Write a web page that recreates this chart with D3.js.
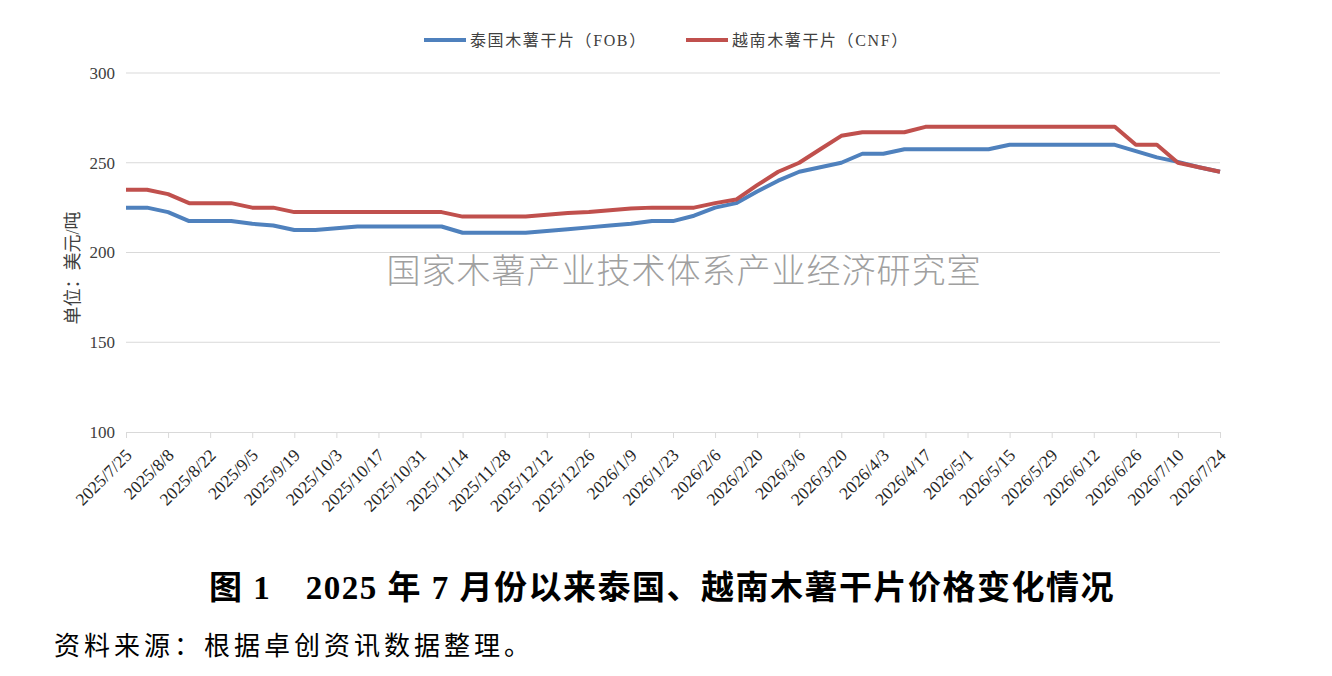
<!DOCTYPE html>
<html lang="zh">
<head>
<meta charset="UTF-8">
<title>泰国、越南木薯干片价格变化情况</title>
<script src="https://cdn.jsdelivr.net/npm/d3@7"></script>
<style>
  body { margin: 0; background: #fff; }
  svg { display: block; }
</style>
</head>
<body>
<script>
// weekly dates, 2025/7/25 .. 2026/7/24
var weeks = ["2025/7/25","2025/8/1","2025/8/8","2025/8/15","2025/8/22","2025/8/29","2025/9/5","2025/9/12",
  "2025/9/19","2025/9/26","2025/10/3","2025/10/10","2025/10/17","2025/10/24","2025/10/31","2025/11/7",
  "2025/11/14","2025/11/21","2025/11/28","2025/12/5","2025/12/12","2025/12/19","2025/12/26","2026/1/2",
  "2026/1/9","2026/1/16","2026/1/23","2026/1/30","2026/2/6","2026/2/13","2026/2/20","2026/2/27",
  "2026/3/6","2026/3/13","2026/3/20","2026/3/27","2026/4/3","2026/4/10","2026/4/17","2026/4/24",
  "2026/5/1","2026/5/8","2026/5/15","2026/5/22","2026/5/29","2026/6/5","2026/6/12","2026/6/19",
  "2026/6/26","2026/7/3","2026/7/10","2026/7/17","2026/7/24"];

var thai = [225,225,222.5,217.5,217.5,217.5,216,215,212.5,212.5,213.5,214.5,214.5,214.5,214.5,214.5,
  211,211,211,211,212,213,214,215,216,217.5,217.5,220.5,225,227.5,234,240,
  245,247.5,250,255,255,257.5,257.5,257.5,257.5,257.5,260,260,260,260,260,260,
  256.5,253,250.5,247.5,245];

var vietnam = [235,235,232.5,227.5,227.5,227.5,225,225,222.5,222.5,222.5,222.5,222.5,222.5,222.5,222.5,
  220,220,220,220,221,222,222.5,223.5,224.5,225,225,225,227.5,229.5,237.5,245,
  250,257.5,265,267,267,267,270,270,270,270,270,270,270,270,270,270,
  260,260,250,247.5,245];

var yTicks = [100,150,200,250,300];
var seriesNames = ["泰国木薯干片（FOB）", "越南木薯干片（CNF）"];
var seriesColors = ["#4F81BD", "#C0504D"];

var W = 1332, H = 676;
var margin = {left: 126, right: 112, top: 73, bottom: 244};
var serif = "'Liberation Serif', 'Times New Roman', 'Noto Sans CJK SC', serif";

var svg = d3.select("body").append("svg")
    .attr("width", W)
    .attr("height", H);

var x = d3.scalePoint()
    .domain(weeks)
    .range([margin.left, W - margin.right]);

var y = d3.scaleLinear()
    .domain([100, 300])
    .range([H - margin.bottom, margin.top]);

// gridlines
svg.append("g")
    .selectAll("line")
    .data(yTicks.slice(1))
    .enter().append("line")
    .attr("x1", margin.left).attr("x2", W - margin.right)
    .attr("y1", function(d) { return y(d); })
    .attr("y2", function(d) { return y(d); })
    .attr("stroke", "#d9d9d9")
    .attr("stroke-width", 1);

// y axis labels
var yAxis = d3.axisLeft(y).tickValues(yTicks).tickSize(0).tickPadding(11);
var gy = svg.append("g")
    .attr("transform", "translate(" + margin.left + ",0)")
    .call(yAxis);
gy.select(".domain").remove();
gy.selectAll("text")
    .attr("font-family", serif)
    .attr("font-size", 17)
    .attr("fill", "#404040");

// x axis, labels every second week
var labelWeeks = weeks.filter(function(d, i) { return i % 2 === 0; });
var xAxis = d3.axisBottom(x).tickValues(labelWeeks).tickSize(6).tickSizeOuter(0).tickPadding(4);
var gx = svg.append("g")
    .attr("transform", "translate(0," + y(100) + ")")
    .call(xAxis);
gx.select(".domain").attr("stroke", "#d9d9d9");
gx.selectAll(".tick line").attr("stroke", "#d9d9d9");
gx.selectAll("text")
    .attr("font-family", serif)
    .attr("font-size", 17.5)
    .attr("fill", "#262626")
    .attr("text-anchor", "end")
    .attr("dy", "0.35em")
    .attr("transform", "translate(-5,13) rotate(-45)");

// y axis title
svg.append("text")
    .attr("transform", "translate(79,268) rotate(-90)")
    .attr("text-anchor", "middle")
    .attr("font-family", serif)
    .attr("font-size", 18)
    .attr("fill", "#404040")
    .text("单位：美元/吨");

// watermark
svg.append("text")
    .attr("x", 684)
    .attr("y", 283)
    .attr("text-anchor", "middle")
    .attr("font-family", "'Noto Sans CJK SC', sans-serif")
    .attr("font-weight", 300)
    .attr("font-size", 34)
    .attr("letter-spacing", 1)
    .attr("fill", "#a0a0a0")
    .text("国家木薯产业技术体系产业经济研究室");

// lines
var line = d3.line()
    .x(function(d, i) { return x(weeks[i]); })
    .y(function(d) { return y(d); });

[thai, vietnam].forEach(function(s, k) {
    svg.append("path")
        .datum(s)
        .attr("fill", "none")
        .attr("stroke", seriesColors[k])
        .attr("stroke-width", 4)
        .attr("stroke-linejoin", "round")
        .attr("d", line);
});

// legend
var legendX = [424, 686];
seriesNames.forEach(function(name, k) {
    var g = svg.append("g").attr("transform", "translate(" + legendX[k] + ",40)");
    g.append("line")
        .attr("x1", 0).attr("x2", 42)
        .attr("stroke", seriesColors[k])
        .attr("stroke-width", 4);
    g.append("text")
        .attr("x", 46)
        .attr("dy", "0.35em")
        .attr("font-family", serif)
        .attr("font-size", 16)
        .attr("letter-spacing", 1.6)
        .attr("fill", "#404040")
        .text(name);
});

// caption
svg.append("text")
    .attr("x", 662)
    .attr("y", 599)
    .attr("text-anchor", "middle")
    .attr("font-family", serif)
    .attr("font-weight", "bold")
    .attr("font-size", 33)
    .attr("letter-spacing", 1.5)
    .attr("fill", "#000")
    .attr("xml:space", "preserve")
    .text("图 1　2025 年 7 月份以来泰国、越南木薯干片价格变化情况");

svg.append("text")
    .attr("x", 54)
    .attr("y", 655)
    .attr("font-family", serif)
    .attr("font-size", 26)
    .attr("letter-spacing", 4)
    .attr("fill", "#000")
    .text("资料来源：根据卓创资讯数据整理。");
</script>
</body>
</html>
